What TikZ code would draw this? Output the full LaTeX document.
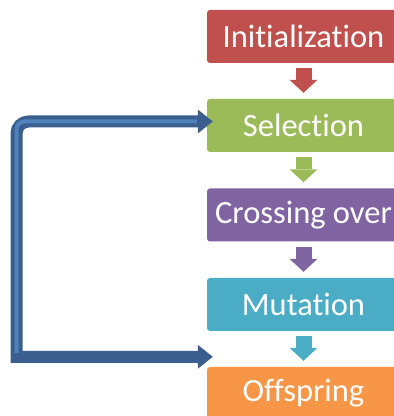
\documentclass[tikz,border=0pt]{standalone}
\usepackage{fontspec}
\setmainfont{Carlito}[Ligatures={NoCommon,NoRare}]
\usetikzlibrary{arrows.meta}
\definecolor{initred}{HTML}{C0504D}
\definecolor{selgreen}{HTML}{9BBB59}
\definecolor{crosspurple}{HTML}{8064A2}
\definecolor{mutcyan}{HTML}{4BACC6}
\definecolor{offorange}{HTML}{F79646}
\definecolor{loopdark}{HTML}{3A5F8E}
\definecolor{looplight}{HTML}{4F81BD}
\begin{document}
\begin{tikzpicture}[x=1pt,y=1pt,
  box/.style={fill=#1, rounded corners=3pt, minimum width=193pt,
    minimum height=53pt, inner sep=0pt, text=white,
    font=\fontsize{32.5}{32.5}\selectfont},
  flowarrow/.style={draw=#1, line width=16pt,
    -{Triangle[width=28pt,length=13pt,line width=0pt]}},
  loopline/.style={draw=loopdark, line width=12pt,
    {Triangle[width=24pt,length=15pt,line width=0pt]}-{Triangle[width=24pt,length=15pt,line width=0pt]}}]
  \useasboundingbox (0,0) rectangle (394,416);
  % the five steps
  \node[box=initred]     (init)  at (303.5,379.5) {Initialization};
  \node[box=selgreen]    (sel)   at (303.5,290.5) {Selection};
  \node[box=crosspurple] (cross) at (303.5,201)   {Crossing over};
  \node[box=mutcyan]     (mut)   at (303.5,111.5) {Mutation};
  \node[box=offorange]   (off)   at (303.5,22.5)  {Offspring};
  % block arrows between the steps
  \draw[flowarrow=initred]     ([yshift=-5pt]init.south)  -- ([yshift=6pt]sel.north);
  \draw[flowarrow=selgreen]    ([yshift=-5pt]sel.south)   -- ([yshift=6pt]cross.north);
  \draw[flowarrow=crosspurple] ([yshift=-5pt]cross.south) -- ([yshift=6pt]mut.north);
  \draw[flowarrow=mutcyan]     ([yshift=-5pt]mut.south)   -- ([yshift=6pt]off.north);
  % loop back to selection
  \coordinate (offin) at ([xshift=6pt,yshift=10pt]off.north west);
  \coordinate (selin) at ([xshift=6pt,yshift=4pt]sel.west);
  \coordinate (loopx) at (16.5,0);
  \draw[loopline] (offin) -- (offin -| loopx) [rounded corners=12pt] -- (selin -| loopx) -- (selin);
  \draw[looplight, line width=4pt] ([yshift=4pt]offin -| loopx)
    [rounded corners=8pt] -- (selin -| loopx) -- ([xshift=-16pt]selin);
\end{tikzpicture}
\end{document}
